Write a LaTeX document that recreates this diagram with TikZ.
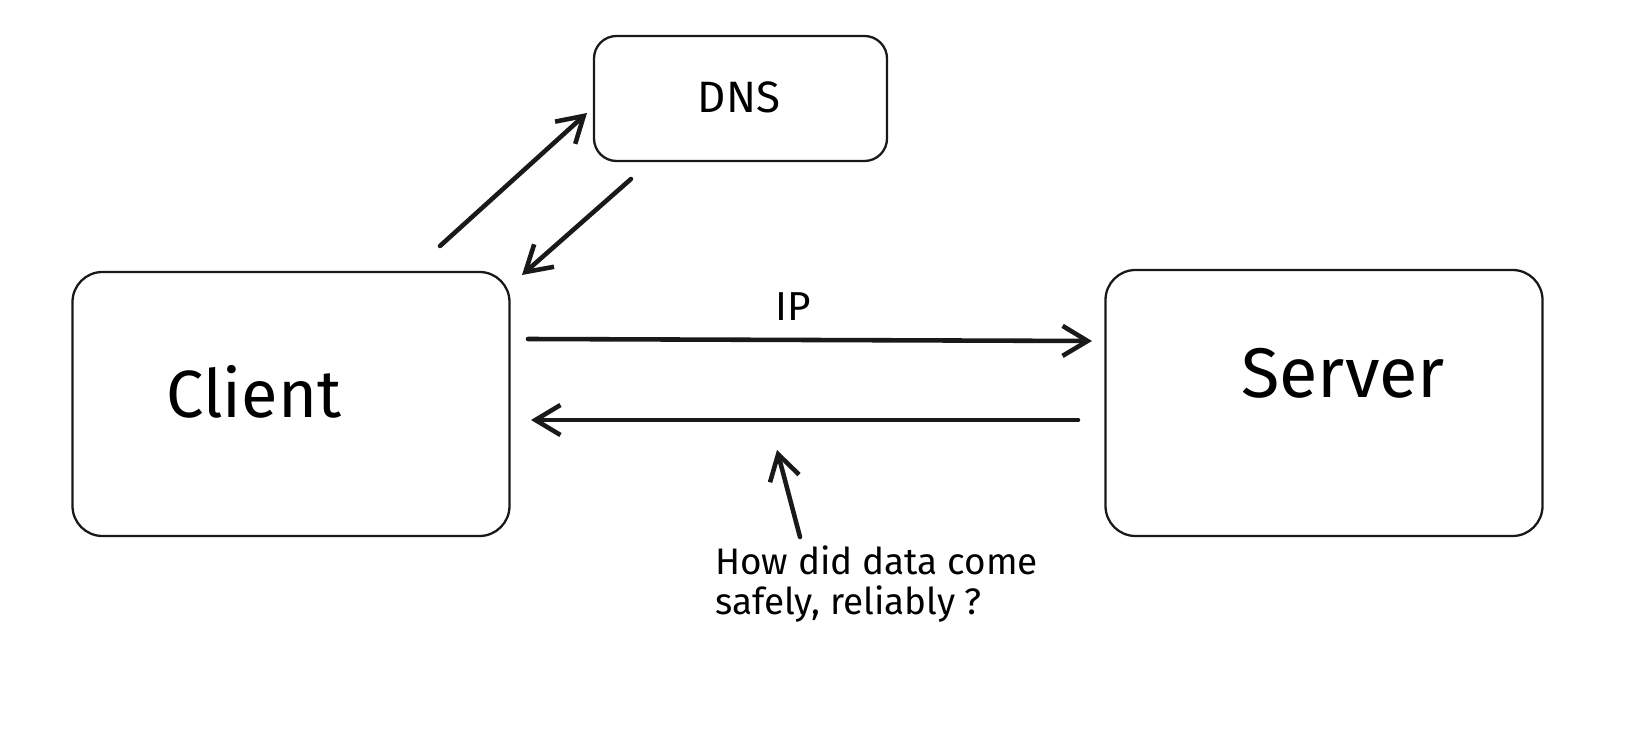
\documentclass[tikz,border=0pt]{standalone}
\usepackage{fontspec}
\setmainfont{Fira Sans}
\usetikzlibrary{arrows.meta}
\begin{document}
\begin{tikzpicture}[x=0.02cm,y=-0.02cm,
  box/.style={draw=black!90, line width=1.3pt, rounded corners=0.6cm, inner sep=0pt},
  conn/.style={draw=black!90, line width=2.6pt, line cap=round,
    -{Straight Barb[length=0.5cm,width=0.6cm,line width=2.6pt]}}]
\useasboundingbox[fill=white] (0,0) rectangle (1626,742);
% boxes
\node[box, minimum width=437*0.02cm, minimum height=264*0.02cm] (client) at (291,404) {};
\node[box, minimum width=293*0.02cm, minimum height=125*0.02cm, rounded corners=0.45cm] (dns) at (740.5,98.5) {};
\node[box, minimum width=437*0.02cm, minimum height=266*0.02cm] (server) at (1324,403) {};
% labels
\node[font=\fontsize{38}{44}\selectfont] (clientlbl) at (254,392) {Client};
\node[font=\fontsize{40}{46}\selectfont] (serverlbl) at (1343,373) {Server};
\node[font=\fontsize{25}{30}\selectfont] (dnslbl) at (739,97) {DNS};
\node[font=\fontsize{23}{28}\selectfont] (iplbl) at (793,307) {IP};
\node[font=\fontsize{21}{23}\selectfont, align=left, anchor=north west, inner sep=0pt] (note) at (715,545) {How did data come\\safely, reliably ?};
% connector endpoints
\coordinate (c2dA) at (440,246);
\coordinate (c2dB) at (587,113);
\coordinate (d2cA) at (631,179);
\coordinate (d2cB) at (522,275);
\coordinate (ipA) at (528,339);
\coordinate (ipB) at (1092,341);
\coordinate (retA) at (1078,420);
\coordinate (retB) at (531,420);
\coordinate (qA) at (800,537);
\coordinate (qB) at (777,450);
% connectors
\draw[conn] (c2dA) -- (c2dB);
\draw[conn] (d2cA) -- (d2cB);
\draw[conn] (ipA) -- (ipB);
\draw[conn] (retA) -- (retB);
\draw[conn] (qA) -- (qB);
\end{tikzpicture}
\end{document}
